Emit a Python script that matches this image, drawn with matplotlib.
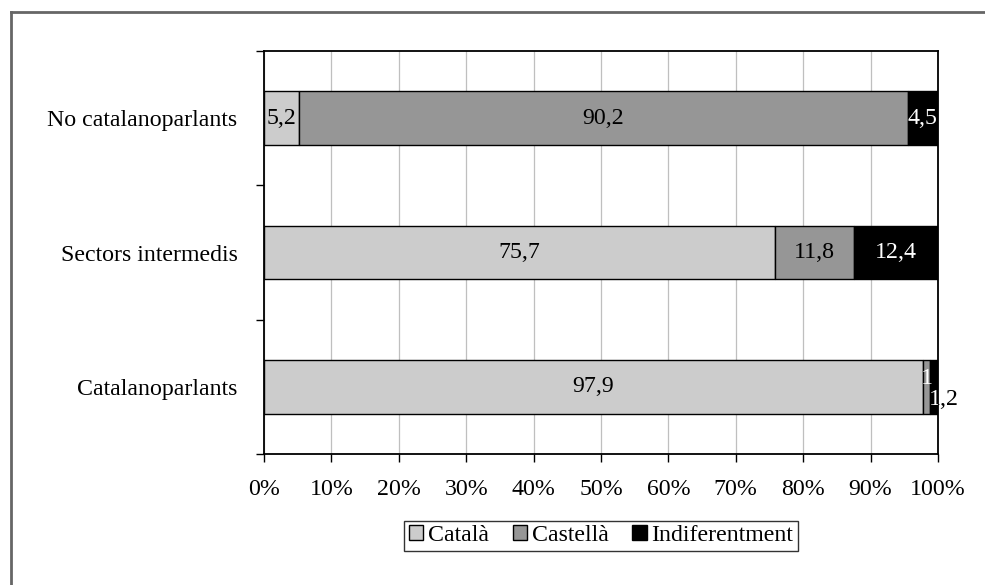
import numpy as np
import matplotlib
matplotlib.use('Agg')
import matplotlib.pyplot as plt
from matplotlib.lines import Line2D

# Data
categories = ['Catalanoparlants', 'Sectors intermedis', 'No catalanoparlants']
series_names = ['Català', 'Castellà', 'Indiferentment']
catala = [97.9, 75.7, 5.2]
castella = [1.0, 11.8, 90.2]
indiferent = [1.2, 12.4, 4.5]
colors = ['#cccccc', '#969696', '#000000']
label_colors = ['black', 'black', 'white']

plt.rcParams['font.family'] = 'Liberation Serif'
plt.rcParams['font.size'] = 17.2

fig = plt.figure(figsize=(9.85, 5.85), dpi=100)
ax = fig.add_axes([0.268, 0.2239, 0.6843, 0.6889])

# outer chart frame (cut off on right and bottom)
fig.add_artist(Line2D([11/985, 11/985], [0, 1 - 12/585], color='#666666', lw=2))
fig.add_artist(Line2D([11/985, 1], [1 - 12/585, 1 - 12/585], color='#666666', lw=2))

data = np.array([catala, castella, indiferent])
totals = data.sum(axis=0)
pct = data / totals * 100
y = np.arange(len(categories))

left = np.zeros(len(categories))
for i, name in enumerate(series_names):
    bars = ax.barh(y, pct[i], left=left, height=0.4, color=colors[i],
                   edgecolor='black', linewidth=1, label=name, zorder=3)
    for j in range(len(categories)):
        txt = f'{data[i, j]:g}'.replace('.', ',')
        xc = left[j] + pct[i, j] / 2
        if j == 0 and i == 1:
            # tiny segment: label nudged up, white
            ax.annotate(txt, (xc, y[j]), xytext=(0, 6), textcoords='offset points',
                        ha='center', va='center', color='white', zorder=5)
        elif j == 0 and i == 2:
            # label spills out of the bar: black outside, white inside the black segment
            ax.annotate(txt, (xc, y[j]), xytext=(7, -9), textcoords='offset points',
                        ha='center', va='center', color='black', zorder=5)
            t = ax.annotate(txt, (xc, y[j]), xytext=(7, -9), textcoords='offset points',
                            ha='center', va='center', color='white', zorder=6)
            t.set_clip_path(bars.patches[j])
        else:
            ax.annotate(txt, (xc, y[j]), ha='center', va='center',
                        color=label_colors[i], zorder=5)
    left += pct[i]

ax.set_xlim(0, 100)
ax.set_ylim(-0.5, 2.5)
ax.set_xticks(np.arange(0, 101, 10))
ax.set_xticklabels([f'{v}%' for v in range(0, 101, 10)])
ax.set_yticks([-0.5, 0.5, 1.5, 2.5])
ax.set_yticklabels([])
ax.set_yticks(y, minor=True)
ax.set_yticklabels(categories, minor=True)
ax.tick_params(axis='y', which='minor', length=0, pad=19)
ax.tick_params(axis='y', which='major', length=6, direction='out', width=1)
ax.tick_params(axis='x', length=6, direction='out', width=1, pad=12)
ax.grid(axis='x', color='#bfbfbf', linewidth=0.9, zorder=0)
for s in ax.spines.values():
    s.set_linewidth(1.3)
    s.set_color('black')

leg = ax.legend(loc='upper center', bbox_to_anchor=(0.5, -0.165), ncol=3,
                frameon=True, fancybox=False, edgecolor='black',
                handlelength=0.6, handleheight=0.6, handletextpad=0.2,
                columnspacing=1.0, borderpad=0.2, borderaxespad=0)
leg.get_frame().set_linewidth(1)

fig.savefig('out.png', dpi=100)
